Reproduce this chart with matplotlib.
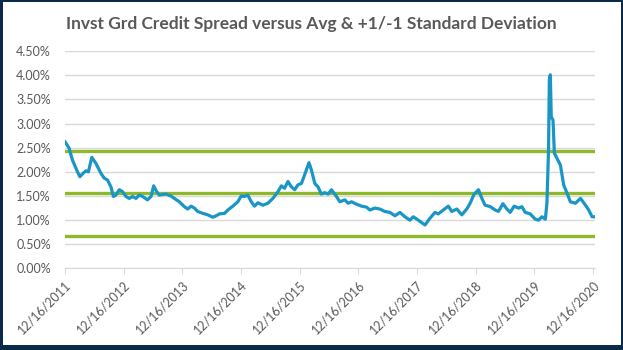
## Investment grade credit spread vs avg and +/-1 std dev

## -----------------------
## Load libraries
import pandas as pd
import numpy as np
import matplotlib
matplotlib.use("Agg")
import matplotlib.pyplot as plt
from matplotlib.patches import Rectangle

## -----------------------
## Data (spread in %)
dates = ["2011-12-18", "2012-01-12", "2012-02-01", "2012-03-04", "2012-03-19", "2012-04-08",
         "2012-04-25", "2012-05-11", "2012-06-01", "2012-06-26", "2012-07-28", "2012-08-17",
         "2012-09-07", "2012-09-28", "2012-10-14", "2012-10-29", "2012-11-19", "2012-12-09",
         "2012-12-31", "2013-01-20", "2013-02-10", "2013-03-03", "2013-03-24", "2013-04-13",
         "2013-05-14", "2013-06-05", "2013-06-21", "2013-07-10", "2013-07-26", "2013-09-06",
         "2013-10-07", "2013-10-28", "2013-11-28", "2013-12-29", "2014-01-19", "2014-02-09",
         "2014-03-02", "2014-03-22", "2014-04-23", "2014-05-24", "2014-06-24", "2014-07-15",
         "2014-08-05", "2014-09-05", "2014-09-26", "2014-10-27", "2014-11-27", "2014-12-18",
         "2015-01-08", "2015-01-28", "2015-02-19", "2015-03-11", "2015-04-01", "2015-05-02",
         "2015-06-02", "2015-07-03", "2015-08-04", "2015-08-25", "2015-09-14", "2015-10-05",
         "2015-10-26", "2015-11-16", "2015-12-06", "2015-12-28", "2016-01-17", "2016-02-13",
         "2016-02-28", "2016-03-20", "2016-04-09", "2016-04-30", "2016-05-21", "2016-06-11",
         "2016-07-02", "2016-08-02", "2016-08-23", "2016-09-23", "2016-10-13", "2016-11-04",
         "2016-12-05", "2017-01-05", "2017-02-05", "2017-02-26", "2017-03-29", "2017-04-29",
         "2017-05-30", "2017-07-01", "2017-08-01", "2017-09-01", "2017-10-02", "2017-11-02",
         "2017-11-23", "2017-12-24", "2018-02-04", "2018-03-07", "2018-04-07", "2018-04-28",
         "2018-05-29", "2018-06-29", "2018-07-21", "2018-08-21", "2018-09-21", "2018-10-22",
         "2018-11-12", "2018-12-07", "2019-01-03", "2019-01-24", "2019-02-13", "2019-03-17",
         "2019-04-17", "2019-05-07", "2019-06-04", "2019-06-29", "2019-07-19", "2019-08-13",
         "2019-09-09", "2019-09-30", "2019-10-21", "2019-11-21", "2019-12-22", "2020-01-12",
         "2020-02-02", "2020-02-23", "2020-03-04", "2020-03-14", "2020-03-19", "2020-03-25",
         "2020-03-31", "2020-04-11", "2020-04-19", "2020-05-06", "2020-05-27", "2020-06-16",
         "2020-07-07", "2020-07-28", "2020-08-28", "2020-09-29", "2020-10-30", "2020-11-19",
         "2020-12-10", "2020-12-25"]
spread = [2.62, 2.49, 2.25, 2.00, 1.90, 1.97,
          2.02, 2.00, 2.30, 2.18, 1.97, 1.87,
          1.83, 1.69, 1.49, 1.52, 1.63, 1.59,
          1.49, 1.45, 1.49, 1.45, 1.52, 1.49,
          1.42, 1.49, 1.71, 1.59, 1.52, 1.54,
          1.50, 1.45, 1.38, 1.28, 1.23, 1.29,
          1.25, 1.18, 1.14, 1.11, 1.06, 1.09,
          1.13, 1.14, 1.21, 1.29, 1.38, 1.50,
          1.49, 1.52, 1.38, 1.29, 1.36, 1.31,
          1.35, 1.45, 1.59, 1.71, 1.66, 1.80,
          1.69, 1.63, 1.73, 1.76, 1.94, 2.19,
          2.04, 1.76, 1.69, 1.54, 1.57, 1.54,
          1.63, 1.49, 1.38, 1.42, 1.35, 1.38,
          1.33, 1.29, 1.27, 1.21, 1.25, 1.23,
          1.18, 1.16, 1.09, 1.16, 1.07, 1.00,
          1.07, 1.00, 0.90, 1.04, 1.16, 1.13,
          1.21, 1.29, 1.18, 1.23, 1.11, 1.23,
          1.35, 1.54, 1.63, 1.45, 1.31, 1.28,
          1.21, 1.18, 1.34, 1.23, 1.16, 1.29,
          1.25, 1.28, 1.16, 1.13, 1.02, 1.00,
          1.07, 1.02, 1.35, 2.45, 3.90, 4.01,
          3.14, 3.07, 2.39, 2.28, 2.14, 1.73,
          1.56, 1.38, 1.35, 1.45, 1.31, 1.21,
          1.07, 1.07]

avg = 1.555
std_dev = 0.885
tick_years = list(range(2011, 2021))
y_ticks = [0.0, 0.5, 1.0, 1.5, 2.0, 2.5, 3.0, 3.5, 4.0, 4.5]
title = "Invst Grd Credit Spread versus Avg & +1/-1 Standard Deviation"

df = pd.DataFrame({"date": pd.to_datetime(dates), "spread": spread})

## -----------------------
## Figure
plt.rcParams['font.family'] = ['Lato', 'DejaVu Sans']
fig = plt.figure(figsize=(6.23, 3.5), dpi=100, facecolor="#0B2A4A")

## White chart area inside the dark frame (drawn behind the axes)
fig.patches.append(Rectangle((3/623, 5/350), 618/623, 343/350, transform=fig.transFigure,
                             facecolor="white", edgecolor="none", zorder=-10))

ax = fig.add_axes([0.104, 0.233, 0.851, 0.621])
ax.set_facecolor("white")

gray_txt = "#595959"
grid_col = "#D9D9D9"
green = "#8DB92B"
blue = "#1A96C6"

## Avg and +/- 1 std lines
for lvl in [avg + std_dev, avg, avg - std_dev]:
    ax.axhline(lvl, color=green, lw=2.4, zorder=2)

ax.plot(df["date"], df["spread"], color=blue, lw=2.3, zorder=3,
        solid_joinstyle="round")

ax.set_ylim(0, 4.5)
ax.set_xlim(pd.Timestamp("2011-12-16"), pd.Timestamp("2020-12-28"))
ax.set_yticks(y_ticks)
ax.set_yticklabels([f"{v:.2f}%" for v in y_ticks])
ax.yaxis.grid(True, color=grid_col, lw=1)
ax.set_axisbelow(True)

xt = [pd.Timestamp(f"{y}-12-16") for y in tick_years]
ax.set_xticks(xt)
ax.set_xticklabels([t.strftime("%m/%d/%Y") for t in xt], rotation=45,
                   ha="right", rotation_mode="anchor")

for s in ["top", "right", "left"]:
    ax.spines[s].set_visible(False)
ax.spines["bottom"].set_color(grid_col)
ax.tick_params(axis="y", length=0, labelsize=9, labelcolor=gray_txt, pad=10)
ax.tick_params(axis="x", length=4, color=grid_col, labelsize=9,
               labelcolor=gray_txt, pad=3)

fig.text(0.5, 0.93, title, ha="center", va="center", fontsize=12.5,
         fontweight="bold", color=gray_txt)

fig.savefig("out.png", dpi=100, facecolor=fig.get_facecolor())
